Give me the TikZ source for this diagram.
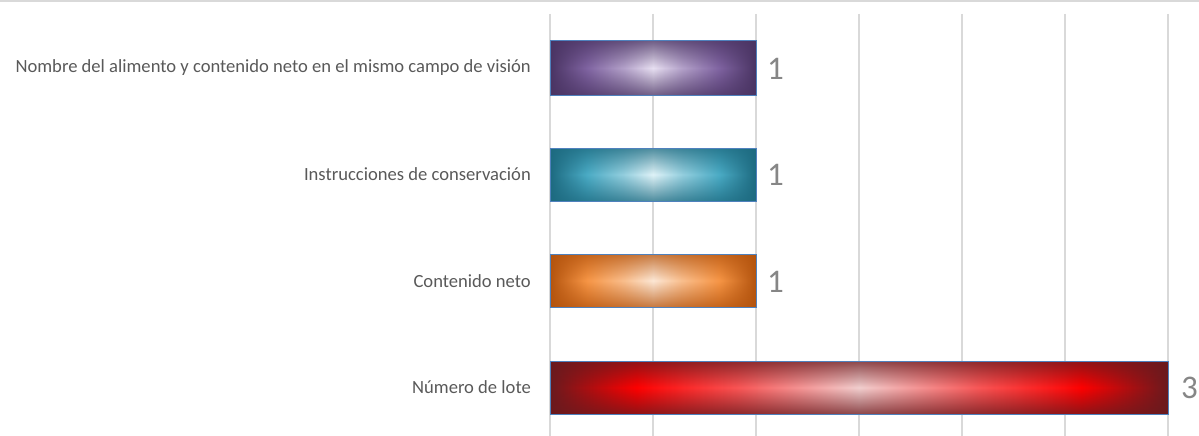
\documentclass[tikz,border=0pt]{standalone}
\usepackage{fontspec}
\setmainfont{Carlito}
\usetikzlibrary{fadings}

% bar colours: edge, body, highlight
\definecolor{purpledark}{HTML}{4A3463}
\definecolor{purplebase}{HTML}{8064A2}
\definecolor{purplelight}{HTML}{E8E0F2}
\definecolor{tealdark}{HTML}{1D6A80}
\definecolor{tealbase}{HTML}{4BACC6}
\definecolor{teallight}{HTML}{E0F3F8}
\definecolor{orangedark}{HTML}{B4540E}
\definecolor{orangebase}{HTML}{F79646}
\definecolor{orangelight}{HTML}{FDE8D6}
\definecolor{reddark}{HTML}{6A1A1E}
\definecolor{redbase}{HTML}{FF0000}
\definecolor{redlight}{HTML}{F2CFCF}
\definecolor{labelgrey}{HTML}{595959}
\definecolor{valuegrey}{HTML}{868686}
\definecolor{gridgrey}{HTML}{D9D9D9}
\definecolor{borderblue}{HTML}{4F81BD}

% TikZ fits the 25bp--75bp part of a shading to the path
\pgfdeclarehorizontalshading{purpleshade}{100bp}{color(0bp)=(purpledark); color(25bp)=(purpledark); color(34bp)=(purplebase); color(43bp)=(purplebase!50!purplelight); color(50bp)=(purplelight); color(57bp)=(purplebase!50!purplelight); color(66bp)=(purplebase); color(75bp)=(purpledark); color(100bp)=(purpledark)}
\pgfdeclarehorizontalshading{tealshade}{100bp}{color(0bp)=(tealdark); color(25bp)=(tealdark); color(34bp)=(tealbase); color(43bp)=(tealbase!50!teallight); color(50bp)=(teallight); color(57bp)=(tealbase!50!teallight); color(66bp)=(tealbase); color(75bp)=(tealdark); color(100bp)=(tealdark)}
\pgfdeclarehorizontalshading{orangeshade}{100bp}{color(0bp)=(orangedark); color(25bp)=(orangedark); color(34bp)=(orangebase); color(43bp)=(orangebase!50!orangelight); color(50bp)=(orangelight); color(57bp)=(orangebase!50!orangelight); color(66bp)=(orangebase); color(75bp)=(orangedark); color(100bp)=(orangedark)}
\pgfdeclarehorizontalshading{redshade}{100bp}{color(0bp)=(reddark); color(25bp)=(reddark); color(32bp)=(redbase); color(40bp)=(redbase!60!redlight); color(50bp)=(redlight); color(60bp)=(redbase!60!redlight); color(68bp)=(redbase); color(75bp)=(reddark); color(100bp)=(reddark)}

% darker top and bottom edge of each bar
\tikzfading[name=edgefade, top color=transparent!25, bottom color=transparent!25, middle color=transparent!100]

\begin{document}
\begin{tikzpicture}[x=1pt, y=-1pt,
    catlabel/.style={anchor=east, inner sep=0pt, text=labelgrey, font=\fontsize{18.6}{22}\selectfont},
    vallabel/.style={anchor=west, inner sep=0pt, text=valuegrey, font=\fontsize{33}{38}\selectfont},
    gridline/.style={gridgrey, line width=1.2pt},
    barborder/.style={borderblue, line width=1pt}]
    \useasboundingbox (0,0) rectangle (1199,436);

    % Top rule and vertical gridlines
    \draw[gridgrey, line width=2pt] (0,1) -- (1199,1);
    \foreach \k in {0,...,6}
        \draw[gridline] ({550+103*\k},14) -- ({550+103*\k},436);

    % Bars: top, bottom, right end, shading, edge colour
    \foreach \top/\bot/\len/\shd/\edge in {41/95/756/purpleshade/purpledark,
                                          148/201/756/tealshade/tealdark,
                                          254/307/756/orangeshade/orangedark,
                                          361/414/1168/redshade/reddark}{
        \shade[shading=\shd] (550,\top) rectangle (\len,\bot);
        \fill[\edge, path fading=edgefade] (550,\top) rectangle (\len,\bot);
        \draw[barborder] (550,\top) rectangle (\len,\bot);
    }

    % Category labels
    \node[catlabel] (nombre) at (531,68) {Nombre del alimento y contenido neto en el mismo campo de visión};
    \node[catlabel] (instruc) at (531,174) {Instrucciones de conservación};
    \node[catlabel] (conten) at (531,281) {Contenido neto};
    \node[catlabel] (lote) at (531,387) {Número de lote};

    % Values
    \node[vallabel] (vnombre) at (767,69) {1};
    \node[vallabel] (vinstruc) at (767,175) {1};
    \node[vallabel] (vconten) at (767,282) {1};
    \node[vallabel] (vlote) at (1181,388) {3};
\end{tikzpicture}
\end{document}
